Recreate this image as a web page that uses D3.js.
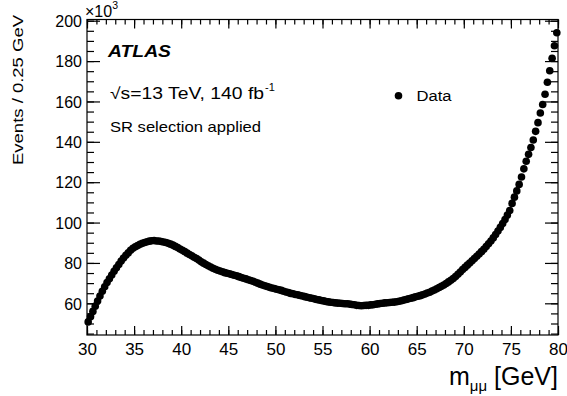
<!DOCTYPE html>
<html><head><meta charset="utf-8">
<script src="https://cdn.jsdelivr.net/npm/d3@7"></script>
<style>
body{margin:0;background:#fff;}
text{font-family:"Liberation Sans",Arial,Helvetica,sans-serif;fill:#000;}
</style></head>
<body><svg id="c" width="567" height="396"></svg>
<script>
// bin centres (0.25 GeV bins from 30 to 80 GeV)
const binStart = 30, binWidth = 0.25;
// Events / 0.25 GeV (x10^3), 20 bins per 5 GeV
const events30 = [50.8,53.4,56.0,58.6,61.1,63.6,66.0,68.2,70.3,72.2,74.0,75.9,77.6,79.2,80.9,82.4,83.8,85.0,86.3,87.3];
const events35 = [88.0,88.6,89.2,89.7,90.1,90.5,90.8,91.0,91.1,90.9,90.9,90.6,90.4,90.1,89.7,89.3,88.8,88.2,87.6,86.9];
const events40 = [86.3,85.6,84.9,84.2,83.5,82.8,82.2,81.4,80.6,79.9,79.2,78.6,78.0,77.4,76.9,76.4,76.0,75.6,75.2,74.9];
const events45 = [74.6,74.3,73.9,73.6,73.2,72.8,72.4,72.1,71.7,71.3,70.9,70.4,70.0,69.5,69.1,68.7,68.3,67.9,67.6,67.3];
const events50 = [67.0,66.7,66.4,66.0,65.6,65.3,64.9,64.7,64.4,64.2,63.9,63.6,63.3,63.0,62.7,62.5,62.2,61.9,61.7,61.4];
const events55 = [61.2,60.9,60.7,60.5,60.4,60.2,60.1,60.0,59.9,59.8,59.8,59.6,59.4,59.3,59.0,58.9,58.8,58.9,59.0,59.0];
const events60 = [59.2,59.3,59.5,59.7,59.9,60.0,60.2,60.3,60.4,60.5,60.6,60.8,61.0,61.3,61.6,61.9,62.2,62.5,62.8,63.2];
const events65 = [63.5,63.8,64.2,64.6,65.1,65.5,66.1,66.6,67.2,67.8,68.4,69.1,69.8,70.6,71.4,72.3,73.3,74.4,75.5,76.7];
const events70 = [77.8,78.9,80.0,81.1,82.2,83.3,84.4,85.6,86.8,88.1,89.5,90.9,92.4,94.1,95.8,97.6,99.5,101.5,103.7,106.0];
const events75 = [109.5,112.6,115.7,118.9,122.6,126.6,130.4,133.8,137.2,140.9,145.2,149.5,154.3,158.5,163.6,169.5,175.2,181.4,187.6,194.0];
const events = [].concat(events30,events35,events40,events45,events50,events55,events60,events65,events70,events75);

const xMajorTicks = [30,35,40,45,50,55,60,65,70,75,80];
const yMajorTicks = [60,80,100,120,140,160,180,200];

const svg = d3.select("#c");
const L=87, R=558, T=19.5, B=335;
const x = d3.scaleLinear().domain([30,80]).range([L,R]);
const y = d3.scaleLinear().domain([44.3,200.6]).range([B,T]);

const xMinor = d3.range(30,80.001,1);
const yMinor = d3.range(45,200.001,5);
const W = 1.2;

// frame
svg.append("rect").attr("x",L).attr("y",T).attr("width",R-L).attr("height",B-T)
  .attr("fill","none").attr("stroke","#000").attr("stroke-width",W);

// axes with inward ticks on all four sides
function ax(axis, tx, ty, size){
  const g = svg.append("g").attr("transform",`translate(${tx},${ty})`)
    .call(axis.tickSize(size).tickSizeOuter(0));
  g.select(".domain").remove();
  g.selectAll(".tick line").attr("stroke","#000").attr("stroke-width",W);
  return g;
}
ax(d3.axisBottom(x).tickValues(xMinor).tickFormat(""),0,B,-5);
ax(d3.axisTop(x).tickValues(xMinor).tickFormat(""),0,T,-5);
ax(d3.axisLeft(y).tickValues(yMinor).tickFormat(""),L,0,-7);
ax(d3.axisRight(y).tickValues(yMinor).tickFormat(""),R,0,-7);
ax(d3.axisTop(x).tickValues(xMajorTicks).tickFormat(""),0,T,-9);
ax(d3.axisRight(y).tickValues(yMajorTicks).tickFormat(""),R,0,-13);
const gb = ax(d3.axisBottom(x).tickValues(xMajorTicks).tickFormat(d3.format("d")),0,B,-9);
gb.selectAll("text").attr("y",20).attr("dy",0).attr("font-size",17).style("font-family","Liberation Sans, Arial, sans-serif");
const gl = ax(d3.axisLeft(y).tickValues(yMajorTicks).tickFormat(d3.format("d")),L,0,-13);
gl.selectAll("text").attr("x",-5).attr("dy","0.36em").attr("font-size",16).style("font-family","Liberation Sans, Arial, sans-serif");

// data points
svg.append("g").selectAll("circle").data(events).join("circle")
  .attr("cx",(d,i)=>x(binStart+binWidth*(i+0.5)))
  .attr("cy",d=>y(d))
  .attr("r",3.8).attr("fill","#000");

// labels
svg.append("text").attr("x",108).attr("y",57).attr("font-size",16.5)
  .attr("font-weight","bold").attr("font-style","italic")
  .attr("textLength",63).attr("lengthAdjust","spacingAndGlyphs").text("ATLAS");

svg.append("text").attr("x",110).attr("y",99).attr("font-size",16)
  .attr("textLength",154).attr("lengthAdjust","spacingAndGlyphs").text("√s=13 TeV, 140 fb");
svg.append("text").attr("x",265).attr("y",91).attr("font-size",11).text("-1");

svg.append("text").attr("x",110).attr("y",132).attr("font-size",14.5)
  .attr("textLength",151).attr("lengthAdjust","spacingAndGlyphs").text("SR selection applied");

// legend
svg.append("circle").attr("cx",398.5).attr("cy",95.7).attr("r",3.8).attr("fill","#000");
svg.append("text").attr("x",416.5).attr("y",101).attr("font-size",15.5)
  .attr("textLength",35).attr("lengthAdjust","spacingAndGlyphs").text("Data");

// x10^3
const t3 = svg.append("text").attr("x",85).attr("y",16.5).attr("font-size",16);
t3.append("tspan").text("×10");
t3.append("tspan").attr("dy",-8).attr("font-size",10.5).text("3");

// axis titles
const xt = svg.append("text").attr("x",558).attr("y",385).attr("text-anchor","end").attr("font-size",25);
xt.append("tspan").text("m");
xt.append("tspan").attr("dy",6).attr("font-size",15).text("μμ");
xt.append("tspan").attr("dy",-6).text(" [GeV]");

svg.append("text").attr("transform","translate(23,15) rotate(-90)")
  .attr("text-anchor","end").attr("font-size",15.5)
  .attr("textLength",150).attr("lengthAdjust","spacingAndGlyphs").text("Events / 0.25 GeV");
</script></body></html>
